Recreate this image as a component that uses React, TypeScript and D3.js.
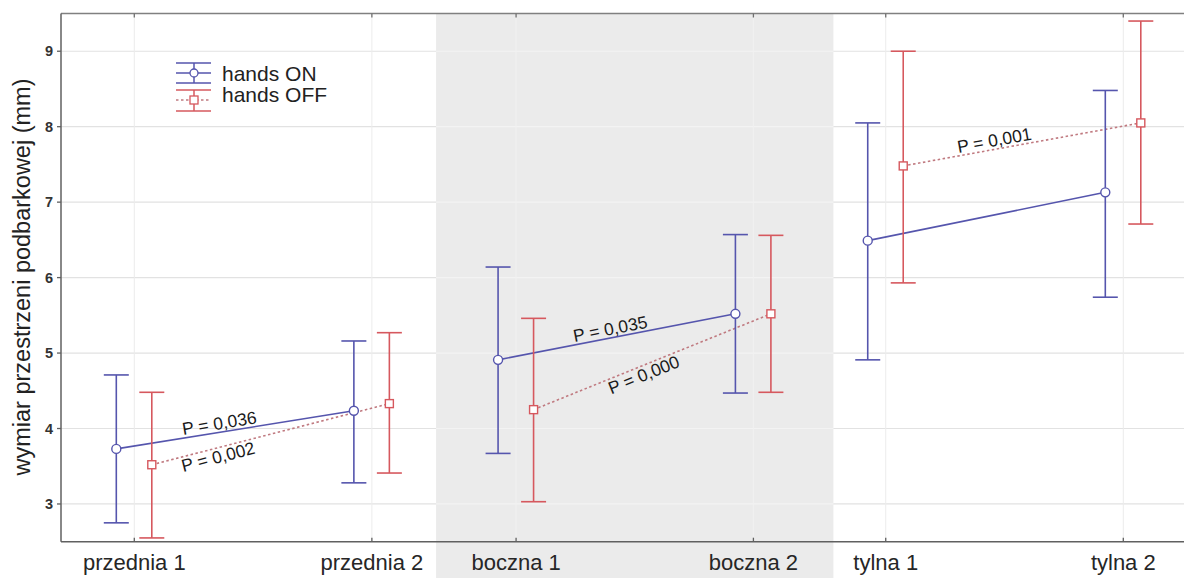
import React from "react";
import * as d3 from "d3";

const categories = ["przednia 1", "przednia 2", "boczna 1", "boczna 2", "tylna 1", "tylna 2"];
const onMean = [3.73, 4.235, 4.91, 5.52, 6.49, 7.13];
const onLow = [2.75, 3.28, 3.67, 4.47, 4.91, 5.74];
const onHigh = [4.71, 5.16, 6.14, 6.57, 8.05, 8.48];
const offMean = [3.52, 4.33, 4.25, 5.52, 7.48, 8.05];
const offLow = [2.55, 3.41, 3.03, 4.48, 5.93, 6.71];
const offHigh = [4.48, 5.27, 5.46, 6.56, 9.0, 9.4];
const yTicks = [3, 4, 5, 6, 7, 8, 9];
const pairs = [[0, 1], [2, 3], [4, 5]];
const pLabels = ["P = 0,036", "P = 0,002", "P = 0,035", "P = 0,000", "P = 0,001"];
const pSeries = ["on", "off", "on", "off", "off"];
const pPair = [0, 0, 1, 1, 2];
const seriesNames = ["hands ON", "hands OFF"];
const yTitle = "wymiar przestrzeni podbarkowej (mm)";

// layout
const W = 1184, H = 578;
const left = 61, right = 1184, top = 13.5, bottom = 541.7;
const catPos = [0, 1, 1.607, 2.606, 3.163, 4.163];
const pT = [0.44, 0.27, 0.48, 0.45, 0.39];
const pSide = [-1, 1, -1, 1, -1];
const BLUE = "#5555ad";
const RED = "#d6585e";
const RED_DOT = "#c07a80";
const SHADE = "#ebebeb";

export default function App() {
  const x = d3.scaleLinear().domain([0, 4.163]).range([134.3, 1123.3]);
  const y = d3.scaleLinear().domain([2.5, 9.5]).range([bottom, top]);
  const offOn = -18, offOff = 17.5;
  const cap = 12.5;
  const xs = (i: number, s: string) => x(catPos[i]) + (s === "on" ? offOn : offOff);
  const shadeX0 = x(catPos[2]) - 80;
  const shadeX1 = x(catPos[3]) + 80;
  const line = d3.line<[number, number]>().x(d => d[0]).y(d => d[1]);

  const series = [
    { key: "on", mean: onMean, lo: onLow, hi: onHigh, color: BLUE },
    { key: "off", mean: offMean, lo: offLow, hi: offHigh, color: RED },
  ];

  return (
    <svg width={W} height={H} style={{ position: "absolute", left: 0, top: 0, background: "#fff" }}
      fontFamily="Arial, 'Liberation Sans', sans-serif">
      <rect x={0} y={0} width={W} height={H} fill="#fff" />
      {/* grid */}
      {yTicks.map(t => (
        <line key={"hg" + t} x1={left} x2={right} y1={y(t)} y2={y(t)} stroke="#e2e2e2" strokeWidth={1.2} />
      ))}
      {categories.map((c, i) => (
        <line key={"vg" + i} x1={x(catPos[i])} x2={x(catPos[i])} y1={top} y2={bottom} stroke="#ececec" strokeWidth={1} />
      ))}
      <rect x={shadeX0} y={top} width={shadeX1 - shadeX0} height={H - top} fill={SHADE} />
      {yTicks.map(t => (
        <line key={"hg2" + t} x1={shadeX0} x2={shadeX1} y1={y(t)} y2={y(t)} stroke="#f3f3f3" strokeWidth={1.2} />
      ))}
      {[2, 3].map(i => (
        <line key={"vg2" + i} x1={x(catPos[i])} x2={x(catPos[i])} y1={top} y2={bottom} stroke="#f1f1f1" strokeWidth={1} />
      ))}
      {/* frame */}
      <line x1={left} x2={right} y1={top} y2={top} stroke="#808080" strokeWidth={1.3} />
      <line x1={left} x2={right} y1={bottom} y2={bottom} stroke="#606060" strokeWidth={1.5} />
      <line x1={left} x2={left} y1={top} y2={bottom} stroke="#606060" strokeWidth={1.5} />
      {categories.map((c, i) => (
        <g key={"tk" + i}>
          <line x1={x(catPos[i])} x2={x(catPos[i])} y1={bottom} y2={bottom - 4} stroke="#606060" strokeWidth={1.3} />
          <line x1={x(catPos[i])} x2={x(catPos[i])} y1={top} y2={top + 4} stroke="#707070" strokeWidth={1.3} />
          <text x={x(catPos[i])} y={570} textAnchor="middle" fontSize={22} fill="#262626">{c}</text>
        </g>
      ))}
      {yTicks.map(t => (
        <g key={"yt" + t}>
          <line x1={left - 4} x2={left} y1={y(t)} y2={y(t)} stroke="#606060" strokeWidth={1.3} />
          <text x={53} y={y(t)} dy="0.36em" textAnchor="end" fontSize={14.5} fontWeight="bold" fill="#333">{t}</text>
        </g>
      ))}
      <text transform={`translate(30,${277}) rotate(-90)`} textAnchor="middle" fontSize={23.5} fill="#222">{yTitle}</text>

      {/* connecting lines */}
      {pairs.map((p, k) => (
        <g key={"pl" + k}>
          <path d={line([[xs(p[0], "off"), y(offMean[p[0]])], [xs(p[1], "off"), y(offMean[p[1]])]])!}
            stroke={RED_DOT} strokeWidth={1.6} strokeDasharray="2.5,2.5" fill="none" />
          <path d={line([[xs(p[0], "on"), y(onMean[p[0]])], [xs(p[1], "on"), y(onMean[p[1]])]])!}
            stroke={BLUE} strokeWidth={1.6} fill="none" />
        </g>
      ))}

      {/* error bars */}
      {series.map(s => categories.map((c, i) => {
        const cx = xs(i, s.key);
        return (
          <g key={s.key + i}>
            <line x1={cx} x2={cx} y1={y(s.lo[i])} y2={y(s.hi[i])} stroke={s.color} strokeWidth={1.6} />
            <line x1={cx - cap} x2={cx + cap} y1={y(s.hi[i])} y2={y(s.hi[i])} stroke={s.color} strokeWidth={1.6} />
            <line x1={cx - cap} x2={cx + cap} y1={y(s.lo[i])} y2={y(s.lo[i])} stroke={s.color} strokeWidth={1.6} />
            {s.key === "on" ? (
              <circle cx={cx} cy={y(s.mean[i])} r={4.5} fill="#fff" stroke={s.color} strokeWidth={1.4} />
            ) : (
              <rect x={cx - 4} y={y(s.mean[i]) - 4} width={8} height={8} fill="#fff" stroke={s.color} strokeWidth={1.4} />
            )}
          </g>
        );
      }))}

      {/* P labels */}
      {pLabels.map((lab, k) => {
        const p = pairs[pPair[k]];
        const mean = pSeries[k] === "on" ? onMean : offMean;
        const x0 = xs(p[0], pSeries[k]), y0 = y(mean[p[0]]);
        const x1 = xs(p[1], pSeries[k]), y1 = y(mean[p[1]]);
        const px = x0 + (x1 - x0) * pT[k];
        const py = y0 + (y1 - y0) * pT[k];
        const ang = Math.atan2(y1 - y0, x1 - x0) * 180 / Math.PI;
        const dy = pSide[k] < 0 ? -3 : 15;
        return (
          <text key={"p" + k} transform={`translate(${px},${py}) rotate(${ang})`} y={dy}
            textAnchor="middle" fontSize={17.5} fill="#1a1a1a">{lab}</text>
        );
      })}

      {/* legend */}
      <g>
        <line x1={176} x2={211} y1={63} y2={63} stroke={BLUE} strokeWidth={1.5} />
        <line x1={176} x2={211} y1={73} y2={73} stroke={BLUE} strokeWidth={1.5} />
        <line x1={176} x2={211} y1={83} y2={83} stroke={BLUE} strokeWidth={1.5} />
        <line x1={194} x2={194} y1={63} y2={83} stroke={BLUE} strokeWidth={1.5} />
        <circle cx={194} cy={73} r={4} fill="#fff" stroke={BLUE} strokeWidth={1.3} />
        <text x={222} y={81} fontSize={21} fill="#222">{seriesNames[0]}</text>
        <line x1={176} x2={211} y1={90} y2={90} stroke={RED} strokeWidth={1.5} />
        <line x1={176} x2={211} y1={100} y2={100} stroke={RED_DOT} strokeWidth={1.5} strokeDasharray="2.5,2.5" />
        <line x1={176} x2={211} y1={111} y2={111} stroke={RED} strokeWidth={1.5} />
        <line x1={194} x2={194} y1={90} y2={111} stroke={RED} strokeWidth={1.5} />
        <rect x={190} y={96} width={8} height={8} fill="#fff" stroke={RED} strokeWidth={1.3} />
        <text x={222} y={102} fontSize={21} fill="#222">{seriesNames[1]}</text>
      </g>
    </svg>
  );
}
